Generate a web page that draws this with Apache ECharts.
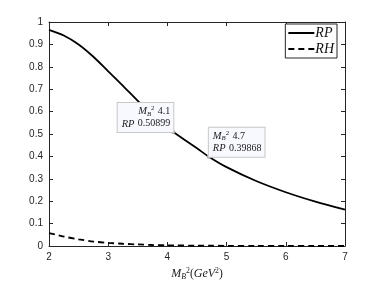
<!DOCTYPE html>
<html><head><meta charset="utf-8">
<script src="https://cdn.jsdelivr.net/npm/echarts@6/dist/echarts.min.js"></script>
<style>html,body{margin:0;padding:0;background:#fff}#c{width:382px;height:286px}</style>
</head><body><div id="c"></div>
<script>
var xValues = [2, 2.25, 2.5, 2.75, 3, 3.25, 3.5, 3.75, 4, 4.1, 4.5, 4.7, 5, 5.5, 6, 6.5, 7];
var rpValues = [0.965, 0.94, 0.90, 0.845, 0.78, 0.715, 0.648, 0.585, 0.527, 0.50899, 0.436, 0.39868, 0.352, 0.29, 0.24, 0.198, 0.162];
var rhValues = [0.058, 0.042, 0.030, 0.020, 0.014, 0.010, 0.007, 0.0045, 0.003, 0.0027, 0.0017, 0.0013, 0.0008, 0.0004, 0.0002, 0.0001, 0.0];
var xTicks = [2, 3, 4, 5, 6, 7];
var yTicks = [0, 0.1, 0.2, 0.3, 0.4, 0.5, 0.6, 0.7, 0.8, 0.9, 1];
var tips = [{x: 4.1, y: 0.50899, side: 'left'}, {x: 4.7, y: 0.39868, side: 'right'}];

function pairs(xs, ys){ return xs.map(function(x,i){return [x, ys[i]];}); }

var serif = '"Liberation Serif","DejaVu Serif",serif';
var sans = '"Liberation Sans",Arial,sans-serif';
var axisCol = '#262626';
function mkRich(fs){
  return {
    m: {fontFamily: serif, fontStyle: 'italic', fontSize: fs, color: '#222', lineHeight: fs + 2},
    sub: {fontFamily: serif, fontStyle: 'italic', fontSize: fs * 0.65, color: '#222', verticalAlign: 'bottom', lineHeight: fs + 2},
    sup: {fontFamily: serif, fontSize: fs * 0.65, color: '#222', verticalAlign: 'top', lineHeight: fs + 2},
    n: {fontFamily: serif, fontSize: fs - 0.5, color: '#222', lineHeight: fs + 2}
  };
}

var chart = echarts.init(document.getElementById('c'));
chart.setOption({
  animation: false,
  backgroundColor: '#fff',
  grid: {left: 49, right: 37, top: 22, bottom: 32, containLabel: false},
  legend: {
    right: 45, top: 24, orient: 'vertical', align: 'left',
    backgroundColor: '#fff', borderColor: '#262626', borderWidth: 1, borderRadius: 0,
    padding: [2, 3, 2, 2], itemGap: 2, itemWidth: 26, itemHeight: 14,
    itemStyle: {opacity: 0},
    textStyle: {fontFamily: serif, fontStyle: 'italic', fontSize: 14, color: '#111', padding: [0, 0, 0, -4]},
    data: ['RP', 'RH']
  },
  xAxis: [{
    type: 'value', min: 2, max: 7, interval: 1,
    axisLine: {onZero: false, lineStyle: {color: axisCol, width: 1}},
    axisTick: {inside: true, length: 4, lineStyle: {color: axisCol}},
    axisLabel: {color: axisCol, fontFamily: sans, fontSize: 10, margin: 6},
    splitLine: {show: false},
    name: '{m|M}{sub|B}{sup|2}{n|(}{m|GeV}{sup|2}{n|)}',
    nameLocation: 'middle', nameGap: 21,
    nameTextStyle: {rich: mkRich(12)}
  }, {
    type: 'value', position: 'top', min: 2, max: 7, interval: 1,
    axisLine: {onZero: false, lineStyle: {color: axisCol, width: 1}},
    axisTick: {inside: true, length: 4, lineStyle: {color: axisCol}},
    axisLabel: {show: false}, splitLine: {show: false}
  }],
  yAxis: [{
    type: 'value', min: 0, max: 1, interval: 0.1,
    axisLine: {onZero: false, lineStyle: {color: axisCol, width: 1}},
    axisTick: {inside: true, length: 4, lineStyle: {color: axisCol}},
    axisLabel: {color: axisCol, fontFamily: sans, fontSize: 10, margin: 6,
      formatter: function(v){ return String(Math.round(v*10)/10); }},
    splitLine: {show: false}
  }, {
    type: 'value', position: 'right', min: 0, max: 1, interval: 0.1,
    axisLine: {onZero: false, lineStyle: {color: axisCol, width: 1}},
    axisTick: {inside: true, length: 4, lineStyle: {color: axisCol}},
    axisLabel: {show: false}, splitLine: {show: false}
  }],
  series: [{
    name: 'RP', type: 'line', smooth: 0.3, showSymbol: false, symbol: 'none',
    data: pairs(xValues, rpValues),
    lineStyle: {color: '#000', width: 1.8}, itemStyle: {color: '#000'},
    markPoint: {
      symbol: 'circle', symbolSize: 4,
      itemStyle: {color: '#a0a0a0'},
      data: tips.map(function(t){
        return {
          coord: [t.x, t.y],
          label: {
            show: true,
            position: ['50%', '50%'],
            align: t.side === 'left' ? 'right' : 'left',
            verticalAlign: 'bottom',
            backgroundColor: '#f8f8ff', borderColor: '#c8c8c8', borderWidth: 1,
            padding: [2, 3, 2, 4],
            formatter: '{m|M}{sub|B}{sup|2} {n|' + t.x + '}\n{m|RP} {n|' + t.y + '}',
            rich: mkRich(10.5)
          }
        };
      })
    }
  }, {
    name: 'RH', type: 'line', smooth: 0.3, showSymbol: false, symbol: 'none',
    data: pairs(xValues, rhValues),
    lineStyle: {color: '#000', width: 1.8, type: [6, 4]}, itemStyle: {color: '#000'}
  }]
});
</script></body></html>
